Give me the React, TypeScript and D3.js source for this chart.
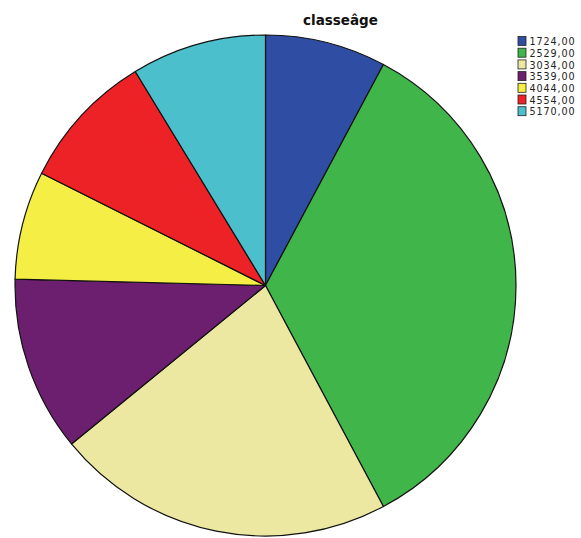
import React from "react";
import * as d3 from "d3";

const categories = ["1724,00", "2529,00", "3034,00", "3539,00", "4044,00", "4554,00", "5170,00"];
const values = [7.8, 34.4, 21.9, 11.3, 7.0, 8.9, 8.7];
const colors = ["#2f4da3", "#40b549", "#ece8a2", "#6c1f6e", "#f5ee45", "#ed2227", "#4cbfcc"];
const title = "classeâge";

export default function App() {
  const W = 581, H = 538;
  const cx = 265.5, cy = 285.5, r = 250.5;
  const pie = d3.pie<number>().sort(null).value((d) => d);
  const arcs = pie(values);
  const arc = d3.arc<d3.PieArcDatum<number>>().innerRadius(0).outerRadius(r);
  return (
    <svg width={W} height={H} style={{ position: "absolute", left: 0, top: 0, background: "#fff" }}>
      <text x={303} y={25} fontFamily="DejaVu Sans, Verdana, sans-serif" fontWeight="bold" fontSize={13.5} fill="#111">{title}</text>
      <g transform={`translate(${cx},${cy})`}>
        {arcs.map((a, i) => (
          <path key={i} d={arc(a) || ""} fill={colors[i]} stroke="#111" strokeWidth={1.2} strokeLinejoin="round" />
        ))}
      </g>
      <g>
        {categories.map((c, i) => (
          <g key={c} transform={`translate(518,${36.5 + i * 11.7})`}>
            <rect x={0} y={0} width={8} height={9} fill={colors[i]} stroke="#222" strokeWidth={0.8} />
            <text x={11.5} y={8.6} fontFamily="DejaVu Sans, Verdana, sans-serif" fontSize={9.6} letterSpacing={0.9} fill="#222">{c}</text>
          </g>
        ))}
      </g>
    </svg>
  );
}
